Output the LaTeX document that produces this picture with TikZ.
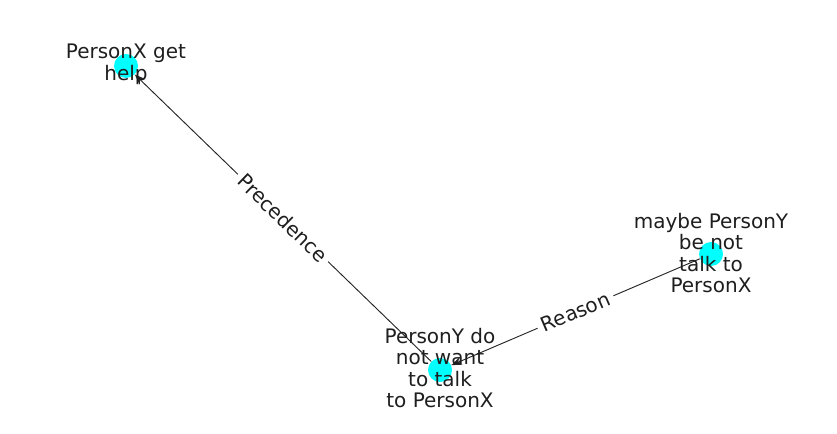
\documentclass[tikz,border=0pt]{standalone}
\usepackage{fontspec}
\setmainfont{DejaVu Sans}
\usetikzlibrary{arrows.meta}
\definecolor{nodecyan}{RGB}{0,255,255}
\definecolor{txt}{RGB}{30,30,30}
\tikzset{
  dot/.style={circle,fill=nodecyan,draw=none,minimum size=18pt,inner sep=0pt},
  lbl/.style={align=center,text=txt,font=\fontsize{15}{16.2}\selectfont,inner sep=0pt},
  edge/.style={draw=black!85,line width=0.7pt,-{Stealth[length=8pt,width=6pt]},shorten >=0pt},
  elbl/.style={sloped,fill=white,text=txt,font=\fontsize{15}{16}\selectfont,inner sep=3.5pt}
}
\begin{document}
\begin{tikzpicture}[x=0.75pt,y=-0.75pt]
\useasboundingbox (0,0) rectangle (837,434);
\node[dot] (a) at (126,66) {};
\node[dot] (b) at (440,370) {};
\node[dot] (c) at (711,254) {};
\draw[edge] (b) -- node[elbl] {Precedence} (a);
\draw[edge] (c) -- node[elbl] {Reason} (b);
\node[lbl] (ta) at (126,64) {PersonX get\\help};
\node[lbl] (tb) at (440,368) {PersonY do\\not want\\to talk\\to PersonX};
\node[lbl] (tc) at (711,253) {maybe PersonY\\be not\\talk to\\PersonX};
\end{tikzpicture}
\end{document}
